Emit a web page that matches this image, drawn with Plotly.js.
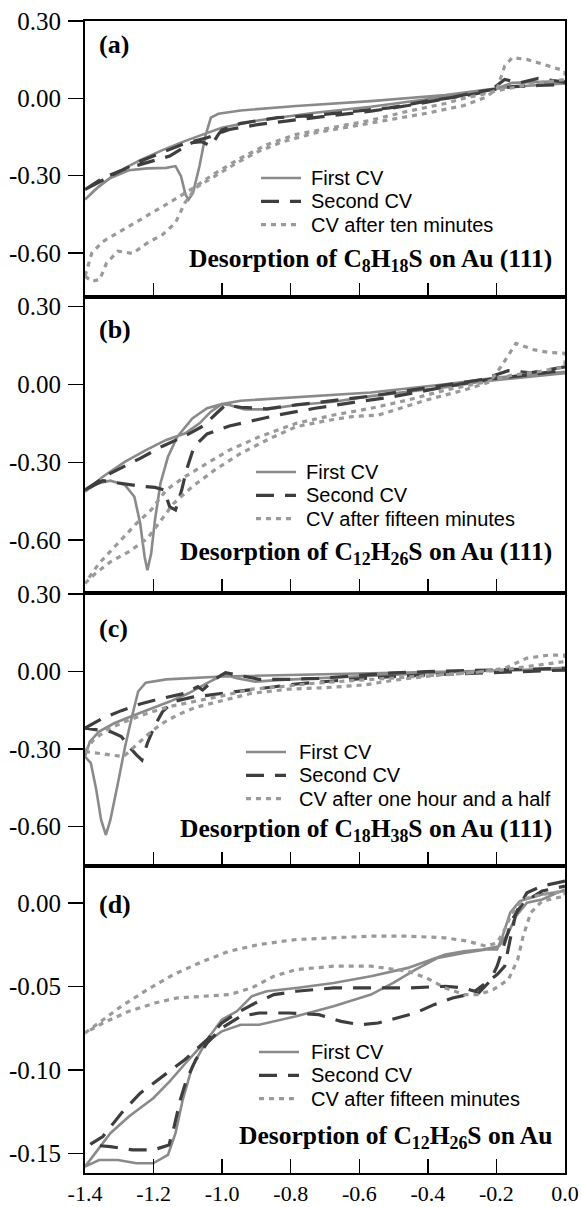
<!DOCTYPE html>
<html><head><meta charset="utf-8">
<script src="https://cdn.plot.ly/plotly-3.0.1.min.js"></script>
<style>html,body{margin:0;padding:0;background:#fff}#chart{width:582px;height:1207px}</style>
</head><body><div id="chart"></div>
<script>
// ---------- shared tick labels ----------
const xTickVals = [-1.4,-1.2,-1.0,-0.8,-0.6,-0.4,-0.2,0.0];
const xTickText = ['-1.4','-1.2','-1.0','-0.8','-0.6','-0.4','-0.2','0.0'];
const yTickVals = [-0.6,-0.3,0,0.3];
const yTickText = ['-0.60','-0.30','0.00','0.30'];
const yTickValsD = [-0.15,-0.10,-0.05,0];
const yTickTextD = ['-0.15','-0.10','-0.05','0.00'];

// ---------- panel (a): C8H18S on Au(111) ----------
const aFirstX = [-1.400,-1.370,-1.326,-1.272,-1.218,-1.163,-1.136,-1.120,-1.107,-1.098,-1.085,-1.066,-1.049,-1.033,-1.011,-0.946,-0.784,-0.566,-0.349,-0.198,-0.154,-0.078,0.000,
                 0.000,-0.078,-0.154,-0.198,-0.349,-0.566,-0.729,-0.892,-1.001,-1.055,-1.109,-1.174,-1.239,-1.304,-1.359,-1.400];
const aFirstY = [-0.393,-0.354,-0.309,-0.279,-0.272,-0.270,-0.263,-0.302,-0.373,-0.393,-0.367,-0.263,-0.147,-0.075,-0.060,-0.047,-0.030,-0.011,0.013,0.039,0.060,0.063,0.067,
                 0.058,0.050,0.045,0.037,0.006,-0.033,-0.056,-0.085,-0.114,-0.140,-0.166,-0.201,-0.240,-0.285,-0.341,-0.393];
const aSecondX = [-1.400,-1.348,-1.283,-1.218,-1.153,-1.109,-1.087,-1.060,-1.033,-1.011,-1.001,-0.946,-0.838,-0.729,-0.621,-0.512,-0.404,-0.295,-0.219,-0.176,-0.132,-0.078,0.000,
                  0.000,-0.078,-0.154,-0.241,-0.349,-0.458,-0.566,-0.675,-0.784,-0.892,-0.979,-1.044,-1.109,-1.163,-1.239,-1.326,-1.400];
const aSecondY = [-0.354,-0.309,-0.274,-0.250,-0.224,-0.188,-0.172,-0.168,-0.185,-0.140,-0.123,-0.097,-0.075,-0.066,-0.053,-0.037,-0.011,0.009,0.028,0.073,0.060,0.077,0.063,
                  0.054,0.050,0.045,0.028,-0.002,-0.028,-0.050,-0.066,-0.085,-0.101,-0.121,-0.153,-0.175,-0.205,-0.244,-0.302,-0.354];
const aLaterX = [-1.400,-1.380,-1.357,-1.337,-1.304,-1.261,-1.218,-1.174,-1.136,-1.109,-1.077,-1.022,-0.957,-0.892,-0.827,-0.729,-0.621,-0.512,-0.404,-0.295,-0.230,-0.198,-0.176,-0.154,-0.111,-0.046,0.000,
                 0.000,-0.078,-0.154,-0.198,-0.241,-0.295,-0.349,-0.458,-0.566,-0.675,-0.784,-0.870,-0.946,-1.022,-1.087,-1.153,-1.218,-1.283,-1.348,-1.380,-1.400];
const aLaterY = [-0.690,-0.710,-0.703,-0.639,-0.593,-0.602,-0.561,-0.529,-0.483,-0.406,-0.347,-0.302,-0.250,-0.205,-0.170,-0.134,-0.108,-0.082,-0.058,-0.028,0.005,0.037,0.125,0.158,0.151,0.125,0.106,
                 0.073,0.060,0.041,0.030,0.015,0.000,-0.020,-0.050,-0.085,-0.113,-0.140,-0.180,-0.232,-0.292,-0.350,-0.404,-0.455,-0.505,-0.556,-0.600,-0.690];

// ---------- panel (b): C12H26S on Au(111) ----------
const bFirstX = [-1.400,-1.370,-1.326,-1.283,-1.256,-1.239,-1.226,-1.218,-1.207,-1.196,-1.180,-1.158,-1.131,-1.087,-1.044,-1.001,-0.946,-0.784,-0.566,-0.349,-0.198,-0.078,0.000,
                 0.000,-0.132,-0.241,-0.349,-0.458,-0.566,-0.675,-0.784,-0.870,-0.935,-0.979,-1.001,-1.033,-1.066,-1.109,-1.163,-1.218,-1.283,-1.348,-1.400];
const bFirstY = [-0.414,-0.384,-0.371,-0.388,-0.433,-0.536,-0.665,-0.716,-0.652,-0.523,-0.382,-0.279,-0.202,-0.131,-0.092,-0.076,-0.063,-0.050,-0.031,0.001,0.027,0.040,0.049,
                 0.043,0.027,0.011,-0.011,-0.028,-0.045,-0.067,-0.079,-0.096,-0.096,-0.079,-0.076,-0.105,-0.150,-0.189,-0.214,-0.250,-0.298,-0.356,-0.414];
const bSecondX = [-1.400,-1.326,-1.239,-1.174,-1.109,-1.055,-1.017,-0.990,-0.946,-0.870,-0.784,-0.675,-0.566,-0.458,-0.349,-0.241,-0.165,-0.100,0.000,
                  0.000,-0.111,-0.198,-0.295,-0.404,-0.512,-0.621,-0.729,-0.838,-0.914,-0.979,-1.044,-1.082,-1.104,-1.118,-1.136,-1.153,-1.169,-1.196,-1.239,-1.294,-1.348,-1.400];
const bSecondY = [-0.407,-0.343,-0.285,-0.238,-0.199,-0.160,-0.112,-0.079,-0.088,-0.094,-0.079,-0.063,-0.045,-0.024,-0.003,0.019,0.053,0.045,0.068,
                  0.055,0.036,0.024,0.004,-0.022,-0.050,-0.070,-0.092,-0.118,-0.140,-0.160,-0.191,-0.240,-0.330,-0.407,-0.484,-0.472,-0.407,-0.397,-0.392,-0.382,-0.371,-0.407];
const bLaterX = [-1.400,-1.370,-1.326,-1.272,-1.218,-1.185,-1.142,-1.087,-1.022,-0.946,-0.860,-0.784,-0.697,-0.621,-0.545,-0.480,-0.404,-0.295,-0.219,-0.187,-0.143,-0.089,-0.046,0.000,
                 0.000,-0.078,-0.154,-0.241,-0.349,-0.458,-0.566,-0.675,-0.784,-0.892,-0.979,-1.044,-1.109,-1.163,-1.207,-1.250,-1.304,-1.359,-1.400];
const bLaterY = [-0.767,-0.729,-0.684,-0.645,-0.594,-0.536,-0.459,-0.394,-0.330,-0.266,-0.208,-0.163,-0.140,-0.124,-0.118,-0.092,-0.060,-0.022,0.010,0.068,0.158,0.133,0.123,0.120,
                 0.068,0.049,0.036,0.007,-0.022,-0.060,-0.092,-0.118,-0.150,-0.202,-0.253,-0.304,-0.356,-0.407,-0.484,-0.536,-0.613,-0.690,-0.767];

// ---------- panel (c): C18H38S on Au(111) ----------
const cFirstX = [-1.400,-1.383,-1.367,-1.353,-1.339,-1.326,-1.304,-1.283,-1.263,-1.245,-1.223,-1.163,-1.001,-0.784,-0.566,-0.349,-0.132,0.000,
                 0.000,-0.241,-0.458,-0.675,-0.827,-0.903,-0.957,-0.990,-1.011,-1.044,-1.098,-1.153,-1.207,-1.261,-1.315,-1.359,-1.386,-1.400];
const cFirstY = [-0.329,-0.354,-0.458,-0.574,-0.632,-0.574,-0.432,-0.290,-0.174,-0.077,-0.043,-0.030,-0.019,-0.013,-0.006,0.000,0.006,0.015,
                 0.009,0.003,-0.009,-0.022,-0.032,-0.039,-0.026,-0.013,-0.022,-0.045,-0.084,-0.116,-0.142,-0.171,-0.200,-0.232,-0.271,-0.329];
const cSecondX = [-1.400,-1.348,-1.294,-1.239,-1.174,-1.109,-1.071,-1.057,-1.022,-0.990,-0.957,-0.892,-0.805,-0.718,-0.621,-0.512,-0.404,-0.241,0.000,
                  0.000,-0.241,-0.404,-0.566,-0.675,-0.784,-0.892,-0.957,-1.022,-1.087,-1.142,-1.174,-1.198,-1.218,-1.234,-1.250,-1.272,-1.294,-1.326,-1.364,-1.400];
const cSecondY = [-0.219,-0.180,-0.151,-0.125,-0.103,-0.084,-0.058,-0.071,-0.030,-0.004,-0.013,-0.030,-0.030,-0.026,-0.017,-0.006,0.000,0.006,0.013,
                  0.006,-0.004,-0.013,-0.024,-0.035,-0.048,-0.066,-0.077,-0.090,-0.099,-0.116,-0.155,-0.213,-0.277,-0.342,-0.322,-0.290,-0.251,-0.232,-0.226,-0.219];
const cLaterX = [-1.400,-1.359,-1.315,-1.288,-1.266,-1.239,-1.207,-1.174,-1.131,-1.077,-1.001,-0.914,-0.805,-0.697,-0.588,-0.480,-0.371,-0.263,-0.176,-0.111,-0.046,0.000,
                 0.000,-0.078,-0.187,-0.295,-0.404,-0.512,-0.621,-0.729,-0.827,-0.914,-1.001,-1.077,-1.153,-1.218,-1.283,-1.337,-1.375,-1.400];
const cLaterY = [-0.309,-0.316,-0.325,-0.329,-0.303,-0.271,-0.232,-0.200,-0.168,-0.138,-0.112,-0.084,-0.068,-0.062,-0.052,-0.030,-0.014,-0.004,0.013,0.052,0.064,0.064,
                 0.039,0.026,0.006,-0.006,-0.017,-0.026,-0.035,-0.045,-0.058,-0.068,-0.094,-0.116,-0.135,-0.161,-0.193,-0.226,-0.264,-0.309];

// ---------- panel (d): C12H26S on Au ----------
const dFirstX = [0.000,-0.067,-0.111,-0.143,-0.165,-0.192,-0.241,-0.295,-0.349,-0.404,-0.458,-0.566,-0.675,-0.784,-0.870,-0.914,-0.957,-1.001,-1.044,-1.098,-1.153,-1.201,-1.272,-1.326,-1.400,
                 -1.359,-1.304,-1.250,-1.201,-1.158,-1.136,-1.115,-1.087,-1.049,-1.001,-0.946,-0.892,-0.784,-0.675,-0.566,-0.501,-0.436,-0.371,-0.295,-0.230,-0.198,-0.182,-0.160,-0.132,-0.067,0.000];
const dFirstY = [0.008,0.002,0.000,-0.008,-0.018,-0.026,-0.028,-0.029,-0.031,-0.035,-0.039,-0.044,-0.048,-0.051,-0.053,-0.056,-0.065,-0.070,-0.082,-0.094,-0.107,-0.117,-0.128,-0.138,-0.158,
                 -0.154,-0.154,-0.156,-0.156,-0.151,-0.138,-0.118,-0.098,-0.084,-0.077,-0.073,-0.073,-0.068,-0.062,-0.055,-0.048,-0.040,-0.033,-0.030,-0.028,-0.028,-0.020,-0.006,0.001,0.005,0.007];
const dSecondX = [0.000,-0.067,-0.111,-0.143,-0.160,-0.176,-0.198,-0.230,-0.263,-0.295,-0.349,-0.458,-0.566,-0.675,-0.784,-0.849,-0.903,-0.957,-1.001,-1.044,-1.109,-1.174,-1.239,-1.294,-1.348,-1.380,
                  -1.386,-1.326,-1.261,-1.201,-1.155,-1.140,-1.122,-1.104,-1.077,-1.044,-1.001,-0.946,-0.892,-0.805,-0.718,-0.653,-0.599,-0.545,-0.490,-0.436,-0.382,-0.328,-0.284,-0.252,-0.219,-0.198,-0.176,-0.154,-0.122,-0.067,0.000];
const dSecondY = [0.013,0.010,0.006,-0.006,-0.022,-0.038,-0.043,-0.048,-0.053,-0.051,-0.050,-0.051,-0.051,-0.051,-0.053,-0.055,-0.060,-0.066,-0.072,-0.082,-0.094,-0.104,-0.114,-0.126,-0.140,-0.144,
                  -0.145,-0.146,-0.148,-0.148,-0.145,-0.134,-0.118,-0.106,-0.094,-0.084,-0.075,-0.068,-0.066,-0.066,-0.067,-0.071,-0.073,-0.072,-0.069,-0.066,-0.061,-0.057,-0.055,-0.054,-0.047,-0.038,-0.024,-0.010,0.000,0.007,0.010];
const dLaterX = [-1.400,-1.348,-1.294,-1.218,-1.142,-1.055,-0.979,-0.892,-0.784,-0.675,-0.566,-0.458,-0.349,-0.284,-0.230,-0.198,-0.176,-0.154,-0.122,-0.067,0.000,
                 0.000,-0.067,-0.100,-0.122,-0.138,-0.165,-0.209,-0.252,-0.295,-0.349,-0.404,-0.458,-0.566,-0.675,-0.784,-0.849,-0.914,-0.979,-1.055,-1.131,-1.196,-1.272,-1.348,-1.400];
const dLaterY = [-0.078,-0.070,-0.062,-0.052,-0.043,-0.035,-0.029,-0.025,-0.022,-0.021,-0.020,-0.020,-0.021,-0.023,-0.026,-0.024,-0.016,-0.006,0.002,0.005,0.007,
                 0.004,0.001,-0.006,-0.020,-0.034,-0.046,-0.052,-0.055,-0.055,-0.051,-0.045,-0.041,-0.038,-0.038,-0.040,-0.044,-0.051,-0.055,-0.056,-0.057,-0.060,-0.065,-0.072,-0.078];

// ---------- legend names and panel texts ----------
const namesA = ['First CV','Second CV','CV after ten minutes'];
const namesB = ['First CV','Second CV','CV after fifteen minutes'];
const namesC = ['First CV','Second CV','CV after one hour and a half'];
const namesD = ['First CV','Second CV','CV after fifteen minutes'];
const panelLabels = ['(a)','(b)','(c)','(d)'];
const panelTitles = ['Desorption of C<sub>8</sub>H<sub>18</sub>S on Au (111)',
                     'Desorption of C<sub>12</sub>H<sub>26</sub>S on Au (111)',
                     'Desorption of C<sub>18</sub>H<sub>38</sub>S on Au (111)',
                     'Desorption of C<sub>12</sub>H<sub>26</sub>S on Au'];

// ---------- styles ----------
const styles = [
  {color:'#8a8a8a', width:2.6, dash:'solid'},
  {color:'#3e3e3e', width:3.2, dash:'18px,11px'},
  {color:'#9a9a9a', width:3.2, dash:'5px,5px'}
];

const panels = [
  {xs:[aFirstX,aSecondX,aLaterX], ys:[aFirstY,aSecondY,aLaterY], names:namesA},
  {xs:[bFirstX,bSecondX,bLaterX], ys:[bFirstY,bSecondY,bLaterY], names:namesB},
  {xs:[cFirstX,cSecondX,cLaterX], ys:[cFirstY,cSecondY,cLaterY], names:namesC},
  {xs:[dFirstX,dSecondX,dLaterX], ys:[dFirstY,dSecondY,dLaterY], names:namesD}
];

const traces = [];
panels.forEach((p, i) => {
  const sfx = i === 0 ? '' : String(i + 1);
  for (let k = 0; k < 3; k++) {
    traces.push({
      type:'scatter', mode:'lines',
      x:p.xs[k], y:p.ys[k], name:p.names[k],
      xaxis:'x' + sfx, yaxis:'y' + sfx, showlegend:false,
      line:Object.assign({}, styles[k]),
      hoverinfo:'skip'
    });
  }
});

// ---------- layout ----------
const W = 582, H = 1207, ML = 85, MR = 17, MT = 21, MB = 34;
const PW = W - ML - MR, PH = H - MT - MB;
const py = v => (H - MB - v) / PH;     // pixel row -> paper y
const px = v => (v - ML) / PW;         // pixel col -> paper x

const domains = [[py(297), 1], [py(593), py(297)], [py(866), py(593)], [0, py(866)]];
const yRanges = [[-0.771, 0.30], [-0.804, 0.337], [-0.752, 0.304], [-0.1618, 0.022]];

const serif = 'Liberation Serif, Times New Roman, serif';
const sans = 'Liberation Sans, Arial, sans-serif';

const layout = {
  width:W, height:H, paper_bgcolor:'#fff', plot_bgcolor:'#fff',
  margin:{l:ML, r:MR, t:MT, b:MB, pad:0},
  showlegend:false, annotations:[], shapes:[]
};

for (let i = 0; i < 4; i++) {
  const sfx = i === 0 ? '' : String(i + 1);
  layout['xaxis' + sfx] = {
    domain:[0, 1], anchor:'y' + sfx, range:[-1.4, 0],
    tickvals:xTickVals, ticktext:xTickText, showticklabels:i === 3,
    ticks:'inside', ticklen:14, tickwidth:1.5, tickcolor:'#000',
    showline:true, linecolor:'#000', linewidth:2, mirror:true,
    showgrid:false, zeroline:false, ticklabelstandoff:0,
    tickfont:{family:serif, size:22, color:'#000'}
  };
  if (i > 0) layout['xaxis' + sfx].matches = 'x';
  layout['yaxis' + sfx] = {
    domain:domains[i], anchor:'x' + sfx, range:yRanges[i],
    tickvals:i === 3 ? yTickValsD : yTickVals,
    ticktext:i === 3 ? yTickTextD : yTickText,
    ticks:'outside', ticklen:15, tickwidth:1.5, tickcolor:'#000',
    showline:true, linecolor:'#000', linewidth:2, mirror:true,
    showgrid:false, zeroline:false, ticklabelstandoff:2,
    tickfont:{family:serif, size:25, color:'#000'}
  };
}

// ---------- hand-placed legends (one per panel) ----------
const legendPos = [[261, 178, 309], [256, 472, 304], [246, 752, 297], [259, 1052, 309]];
const legendNames = [namesA, namesB, namesC, namesD];
const rowGap = 23.3;
legendPos.forEach((lp, i) => {
  for (let k = 0; k < 3; k++) {
    const yy = py(lp[1] + k * rowGap);
    layout.shapes.push({
      type:'line', xref:'paper', yref:'paper', layer:'above',
      x0:px(lp[0]), x1:px(lp[0] + 40), y0:yy, y1:yy,
      line:Object.assign({}, styles[k])
    });
    layout.annotations.push({
      xref:'paper', yref:'paper', x:px(lp[2]), y:yy, xanchor:'left', yanchor:'middle',
      text:legendNames[i][k], showarrow:false,
      font:{family:sans, size:20, color:'#000'}
    });
  }
});

const labelY = [44, 329, 628, 904];
const titleY = [260, 553, 830, 1137];
for (let i = 0; i < 4; i++) {
  layout.annotations.push({
    xref:'paper', yref:'paper', x:px(97), y:py(labelY[i]), xanchor:'left', yanchor:'middle',
    text:'<b>' + panelLabels[i] + '</b>', showarrow:false,
    font:{family:serif, size:26, color:'#000'}
  });
  layout.annotations.push({
    xref:'paper', yref:'paper', x:px(554), y:py(titleY[i]), xanchor:'right', yanchor:'middle',
    text:'<b>' + panelTitles[i] + '</b>', showarrow:false,
    font:{family:serif, size:25.5, color:'#000'}
  });
}

Plotly.newPlot('chart', traces, layout, {staticPlot:true, displayModeBar:false});
</script>
</body></html>
